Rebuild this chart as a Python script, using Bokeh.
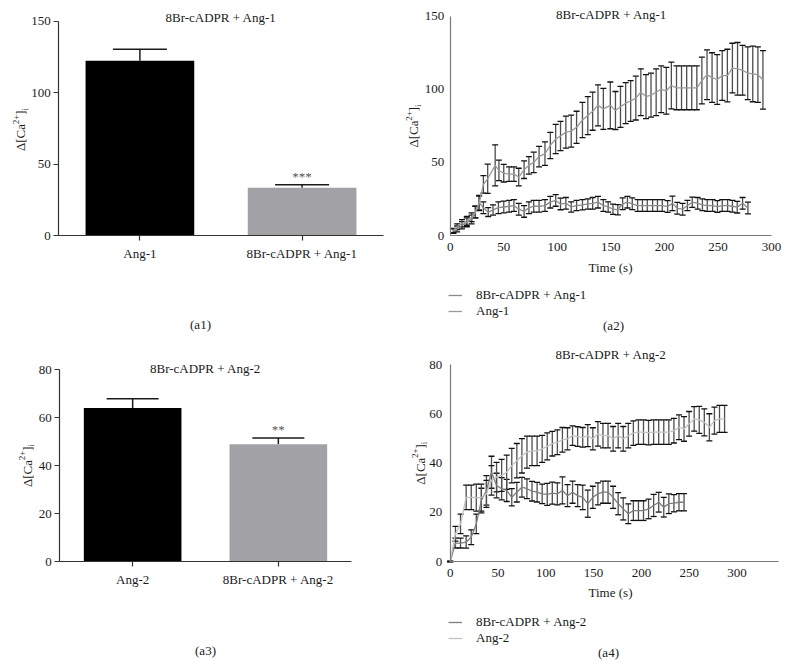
import math
from bokeh.plotting import figure
from bokeh.models import (Range1d, FixedTicker, Label, Legend, LegendItem, LinearAxis,
                          Whisker, TeeHead, ColumnDataSource)
from bokeh.layouts import column, row
from bokeh.embed import file_html
from bokeh.resources import INLINE

# ---------------- data ----------------
a1_groups = ["Ang-1", "8Br-cADPR + Ang-1"]
a1_mean = [122.3, 33.5]
a1_sem = [8.1, 2.1]
a1_sig = ["", "***"]

a3_groups = ["Ang-2", "8Br-cADPR + Ang-2"]
a3_mean = [64.0, 48.9]
a3_sem = [3.8, 2.6]
a3_sig = ["", "**"]

a2_time_ang1 = [3, 6.5, 11, 15.5, 20, 23.5, 27, 31, 35, 42,
                45.5, 50, 55, 59.5, 64, 69, 73.5, 78, 83, 88.5,
                93.5, 98.5, 103, 108, 113, 118, 123.5, 128.5, 133, 138,
                143, 149.5, 154.3, 159, 163.8, 168.5, 173.3, 178, 182.8, 187.5,
                192.3, 197, 201.8, 206.5, 211.3, 216, 220.8, 225.5, 230.3, 235,
                239.8, 244.5, 249.3, 254, 258.8, 263.5, 268.3, 273, 277.8, 282.5,
                287.3, 292]
a2_ang1 = [3.4, 6, 8.4, 10, 12.5, 16, 22, 35, 38.8, 48,
           44.5, 42.6, 42, 42, 40, 45, 48, 50, 54, 56,
           61.6, 66, 68, 70.7, 71.4, 74, 79, 82, 85, 89,
           86.6, 89, 85.5, 88, 90.5, 92, 94, 98, 95, 96,
           98, 100, 99, 102.6, 101, 101, 101, 101, 101, 106,
           110, 108, 106.7, 109.4, 109.4, 114.5, 114, 113, 111, 110.5,
           110, 106.5]
a2_ang1_err = [1.5, 2, 2.5, 3, 3, 4, 5, 6, 10, 14,
               7, 6, 5, 5, 6, 6, 6, 7, 7, 8,
               9, 10, 10, 11, 11, 11, 12, 13, 13, 14,
               14, 16, 13, 14, 14, 14, 15, 16, 15, 15,
               16, 16, 16, 16, 15, 15, 15, 15, 15, 16,
               17, 17, 17, 17, 18, 17, 18, 17, 18, 19,
               19, 20]

a2_time_br = [3, 6.5, 11, 15.5, 20, 23.5, 27, 31, 35.5, 40,
              45, 50, 55, 59.5, 64, 69, 73.5, 78, 83, 88.5,
              93.5, 98.5, 103, 108, 113, 118, 123.5, 128.5, 133, 138,
              143, 147.5, 152, 156.5, 161, 165.5, 170, 175, 179.5, 184,
              189, 193.5, 198, 203, 207.5, 212, 217, 221.5, 226, 231,
              235.5, 240, 245, 249.5, 254, 259, 263.5, 268, 273, 278]
a2_br = [3, 4.5, 7, 9, 11, 16, 22.5, 19, 16, 17.5,
         19, 19.5, 20, 20.5, 18, 16.5, 19, 20, 20, 20.5,
         22.8, 24, 21.6, 22, 19.5, 20.5, 21, 21.6, 22, 22.8,
         20.5, 19.5, 18, 17.6, 21.7, 22.8, 21.7, 20.5, 20.5, 20.5,
         20.5, 20.5, 20.5, 19.8, 22, 18.6, 18, 20.5, 22.8, 22,
         21, 20.5, 20.5, 19.8, 20.5, 20.5, 20, 19.4, 22, 18.8]
a2_br_err = [1.5, 2, 2.5, 3, 3, 4, 5, 4, 3, 3.5,
             4, 4, 4, 4, 4, 4, 4, 4, 4, 4,
             4, 4, 4, 4, 3.5, 3.5, 3.5, 3.5, 4, 4,
             4, 3.5, 3.5, 3.5, 4, 4, 4, 4, 4, 4,
             4, 4, 4, 4, 5, 4, 4, 3.5, 3.5, 4,
             4, 4, 4, 4, 4, 4, 4, 4, 4, 4]

a4_time = [0, 5.5, 10.8, 16.7, 22, 27.3, 32.6, 37.9, 43.2, 48.5,
           53.8, 59.1, 64.4, 69.7, 75, 80.3, 85.6, 90.9, 96.2, 101.5,
           106.8, 112.1, 117.4, 122.7, 128, 133.3, 138.6, 143.9, 149.2, 154.5,
           159.8, 165.1, 170.4, 175.7, 181, 186.3, 191.6, 196.9, 202.2, 207.5,
           212.8, 218.1, 223.4, 228.7, 234, 239.3, 244.6, 249.9, 255.2, 260.5,
           265.8, 271.1, 276.4, 281.7, 287]
a4_ang2 = [0, 11.3, 15.3, 26.1, 26.1, 26.0, 26.0, 27.5, 33.0, 34.3,
           35.0, 36.3, 39.0, 41.0, 43.0, 44.5, 45.0, 45.0, 45.8, 46.8,
           47.9, 48.5, 49.5, 49.9, 51.2, 50.8, 50.5, 51.2, 49.9, 51.9,
           51.2, 51.2, 49.9, 51.2, 49.9, 51.2, 52.2, 52.6, 52.6, 52.4,
           52.6, 52.6, 52.6, 52.6, 53.2, 54.6, 53.9, 56.0, 58.0, 57.6,
           56.6, 54.6, 57.3, 58.0, 58.0]
a4_ang2_err = [0, 3, 4, 5, 5, 5.5, 5.5, 5.5, 6, 6,
               6.5, 7, 7, 7, 7, 6.5, 6, 6, 5.5, 5.5,
               5, 5, 5, 4.5, 4, 4, 4, 4.5, 4.5, 5,
               5, 5, 5, 5, 5, 5, 5, 5, 5, 5,
               5, 5, 5, 5, 5, 5, 5, 5, 5, 5.5,
               5.5, 5.5, 5.5, 5.5, 5.5]
a4_br = [0, 7.5, 7.5, 7.9, 9.9, 15.3, 24.8, 28.9, 36.3, 30.9,
         29.6, 28.9, 26.1, 28.2, 30.2, 29.6, 28.6, 28.2, 27.5, 27.3,
         27.8, 27.5, 28.9, 26.8, 28.2, 26.8, 26.1, 23.5, 26.1, 27.5,
         28.2, 28.2, 26.1, 23.5, 21.4, 19.4, 20.7, 20.7, 20.7, 21.4,
         22.8, 24.1, 22.1, 23.5, 23.7, 24.1, 24.1]
a4_br_err = [0, 2, 2, 2.5, 3, 4, 5, 6, 6.5, 5,
             4.5, 4.5, 3.5, 4, 4, 4, 4, 4, 4, 4.5,
             4.5, 4.5, 5.5, 4.5, 4.5, 4.5, 5, 5.5, 4.5, 4.5,
             4.5, 4.5, 4.5, 4.5, 4.5, 4, 4, 4, 4, 4,
             4.5, 4, 4, 4, 3.5, 3.5, 3.5]

y_ticks_150 = [0, 50, 100, 150]
y_ticks_80 = [0, 20, 40, 60, 80]
x_ticks_time = [0, 50, 100, 150, 200, 250, 300]

# y-axis label pieces: (text, font px, shift across baseline: - raises, + lowers)
ylabel_parts = [("\u0394[Ca", 13, 0), ("2+", 9, -5), ("]", 13, 0), ("i", 9, 4)]

bar_colors = ["#000000", "#a2a2a6"]

FONT = "Liberation Serif"
TXT = "#1a1a1a"
# approximate advance widths (em) of a Times-like face, for laying out the label pieces
EM = {"\u0394": 0.612, "[": 0.333, "]": 0.333, "C": 0.667, "a": 0.444, "2": 0.5,
      "+": 0.564, "i": 0.278}


def make_panel(ox, oy, w, h, xa, xA, xb, xB, yc, yC, yd, yD):
    """Figure whose frame fills the canvas; (xa->xA, xb->xB, yc->yC, yd->yD) in page px."""
    sx = (xB - xA) / (xb - xa)
    sy = (yC - yD) / (yd - yc)
    x0 = xa - (xA - ox) / sx
    x1 = xa + (ox + w - xA) / sx
    y1 = yd + (yD - oy) / sy
    y0 = yc - (oy + h - yC) / sy
    p = figure(width=w, height=h, x_range=Range1d(x0, x1), y_range=Range1d(y0, y1),
               output_backend="svg", toolbar_location=None,
               x_axis_location=None, y_axis_location=None,
               min_border_left=0, min_border_right=0, min_border_top=0, min_border_bottom=0)
    p.grid.visible = False
    p.outline_line_color = None
    fx = lambda ix: xa + (ix - xA) / sx
    fy = lambda iy: yc + (yC - iy) / sy
    return p, fx, fy, sy


def add_axes(p, xloc, xbounds, xticks, yloc, ybounds, yticks, color, tick_len,
             xstand, ystand, overrides=None):
    xax = LinearAxis(fixed_location=xloc, bounds=xbounds, ticker=FixedTicker(ticks=xticks))
    yax = LinearAxis(fixed_location=yloc, bounds=ybounds, ticker=FixedTicker(ticks=yticks))
    if overrides:
        xax.major_label_overrides = overrides
    for ax in (xax, yax):
        ax.axis_line_color = color
        ax.axis_line_width = 1.2
        ax.major_tick_line_color = color if tick_len else None
        ax.major_tick_line_width = 1.2
        ax.major_tick_out = tick_len
        ax.major_tick_in = 0
        ax.minor_tick_out = 0
        ax.minor_tick_in = 0
        ax.minor_tick_line_color = None
        ax.major_label_text_font = FONT
        ax.major_label_text_font_size = "13px"
        ax.major_label_text_color = TXT
    xax.major_label_standoff = xstand
    yax.major_label_standoff = ystand
    p.add_layout(xax, "below")
    p.add_layout(yax, "left")


def add_text(p, text, x, y, angle=0.0, align="center", size="13px"):
    p.add_layout(Label(x=x, y=y, text=text, text_align=align, text_baseline="middle",
                       angle=angle, text_font=FONT, text_font_size=size, text_color=TXT))


def add_ylabel(p, fx, fy, cx, cy):
    widths = [sum(EM.get(ch, 0.5) for ch in t) * s for t, s, _ in ylabel_parts]
    pos = cy + sum(widths) / 2.0
    for (t, s, shift), wd in zip(ylabel_parts, widths):
        add_text(p, t, fx(cx + shift), fy(pos), angle=math.pi / 2, align="left",
                 size=f"{s}px")
        pos -= wd


def bar_panel(geom, groups, means, sems, sig, ymax, yticks, title, title_xy, ylab_xy,
              caption, cap_xy, cap_size):
    p, fx, fy, sy = make_panel(*geom)
    xs = [i + 1 for i in range(len(groups))]
    tops = [m + s for m, s in zip(means, sems)]
    p.vbar(x=xs, top=means, width=0.67, fill_color=bar_colors, line_color=None)
    src = ColumnDataSource(dict(x=xs, lo=means, hi=tops))
    p.add_layout(Whisker(source=src, base="x", lower="lo", upper="hi", dimension="height",
                         line_color="#1a1a1a", line_width=1.5,
                         upper_head=TeeHead(size=cap_size, line_color="#1a1a1a", line_width=1.5),
                         lower_head=None))
    p.text(x=xs, y=[t + 8.0 / sy for t in tops], text=sig,
           text_align="center", text_baseline="middle",
           text_font={"value": FONT}, text_font_size="13px", text_color="#555555")
    add_axes(p, 0, (0.5, len(groups) + 0.5), xs, 0.5, (0, ymax), yticks, "#333333", 5,
             5, 3, overrides=dict(zip(xs, groups)))
    add_text(p, title, fx(title_xy[0]), fy(title_xy[1]))
    add_ylabel(p, fx, fy, *ylab_xy)
    add_text(p, caption, fx(cap_xy[0]), fy(cap_xy[1]))
    return p


def time_panel(geom, xbound, ymax, yticks, title, title_xy, ylab_xy, xlab_xy,
               caption, cap_xy, series, legend_loc, ystand, xstand):
    p, fx, fy, sy = make_panel(*geom)
    items = []
    for name, tt, vv, ee, col in series:
        rend = p.line(tt, vv, line_color=col, line_width=1.3)
        src = ColumnDataSource(dict(t=tt, lo=[v - e for v, e in zip(vv, ee)],
                                    hi=[v + e for v, e in zip(vv, ee)]))
        p.add_layout(Whisker(source=src, base="t", lower="lo", upper="hi", dimension="height",
                             line_color="#4d4d4d", line_width=1.3,
                             upper_head=TeeHead(size=6, line_color="#111111", line_width=1.3),
                             lower_head=TeeHead(size=6, line_color="#111111", line_width=1.3)))
        items.append(LegendItem(label=name, renderers=[rend]))
    add_axes(p, 0, (0, xbound), x_ticks_time, 0, (0, ymax), yticks, "#7a7a7a", 0,
             xstand, ystand)
    leg = Legend(items=items, location=legend_loc, orientation="vertical",
                 glyph_width=14, glyph_height=16, label_height=16, label_standoff=14,
                 spacing=0, padding=0, margin=0, border_line_color=None,
                 background_fill_alpha=0, label_text_font=FONT,
                 label_text_font_size="13px", label_text_color=TXT)
    p.add_layout(leg)
    add_text(p, title, fx(title_xy[0]), fy(title_xy[1]))
    add_ylabel(p, fx, fy, *ylab_xy)
    add_text(p, "Time (s)", fx(xlab_xy[0]), fy(xlab_xy[1]))
    add_text(p, caption, fx(cap_xy[0]), fy(cap_xy[1]))
    return p


# geometry: canvas origin/size in page px, then axis calibration points (value -> page px)
p1 = bar_panel((0, 0, 393, 336, 0.5, 58.3, 2.5, 382.7, 0, 235.3, 150, 20.7),
               a1_groups, a1_mean, a1_sem, a1_sig, 150, y_ticks_150,
               "8Br-cADPR + Ang-1", (220.5, 16.7), (20, 129), "(a1)", (200, 324), 54)

p2 = time_panel((393, 0, 393, 336, 0, 449.7, 300, 771, 0, 235, 150, 15.7),
                300, 150, y_ticks_150, "8Br-cADPR + Ang-1", (611, 13.5), (413, 125.5),
                (610, 266.7), "(a2)", (613, 325),
                [("8Br-cADPR + Ang-1", a2_time_br, a2_br, a2_br_err, "#8a8a8a"),
                 ("Ang-1", a2_time_ang1, a2_ang1, a2_ang1_err, "#9a9a9a")],
                (55, 17), 6, 7)

p3 = bar_panel((0, 336, 393, 327, 0.5, 59.3, 2.5, 350.7, 0, 561, 80, 369),
               a3_groups, a3_mean, a3_sem, a3_sig, 80, y_ticks_80,
               "8Br-cADPR + Ang-2", (205, 368.3), (26.7, 465), "(a3)", (205, 650), 52)

p4 = time_panel((393, 336, 393, 327, 0, 449.7, 300, 736.5, 0, 561, 80, 364.3),
                343.4, 80, y_ticks_80, "8Br-cADPR + Ang-2", (610.5, 354.3), (419.5, 462.7),
                (610, 591.7), "(a4)", (608, 651.7),
                [("8Br-cADPR + Ang-2", a4_time[:len(a4_br)], a4_br, a4_br_err, "#7d7d7d"),
                 ("Ang-2", a4_time, a4_ang2, a4_ang2_err, "#c2c2c2")],
                (55, 17), 8, 7)

layout = column(row(p1, p2), row(p3, p4))
open("out.html", "w").write(file_html(layout, INLINE))
